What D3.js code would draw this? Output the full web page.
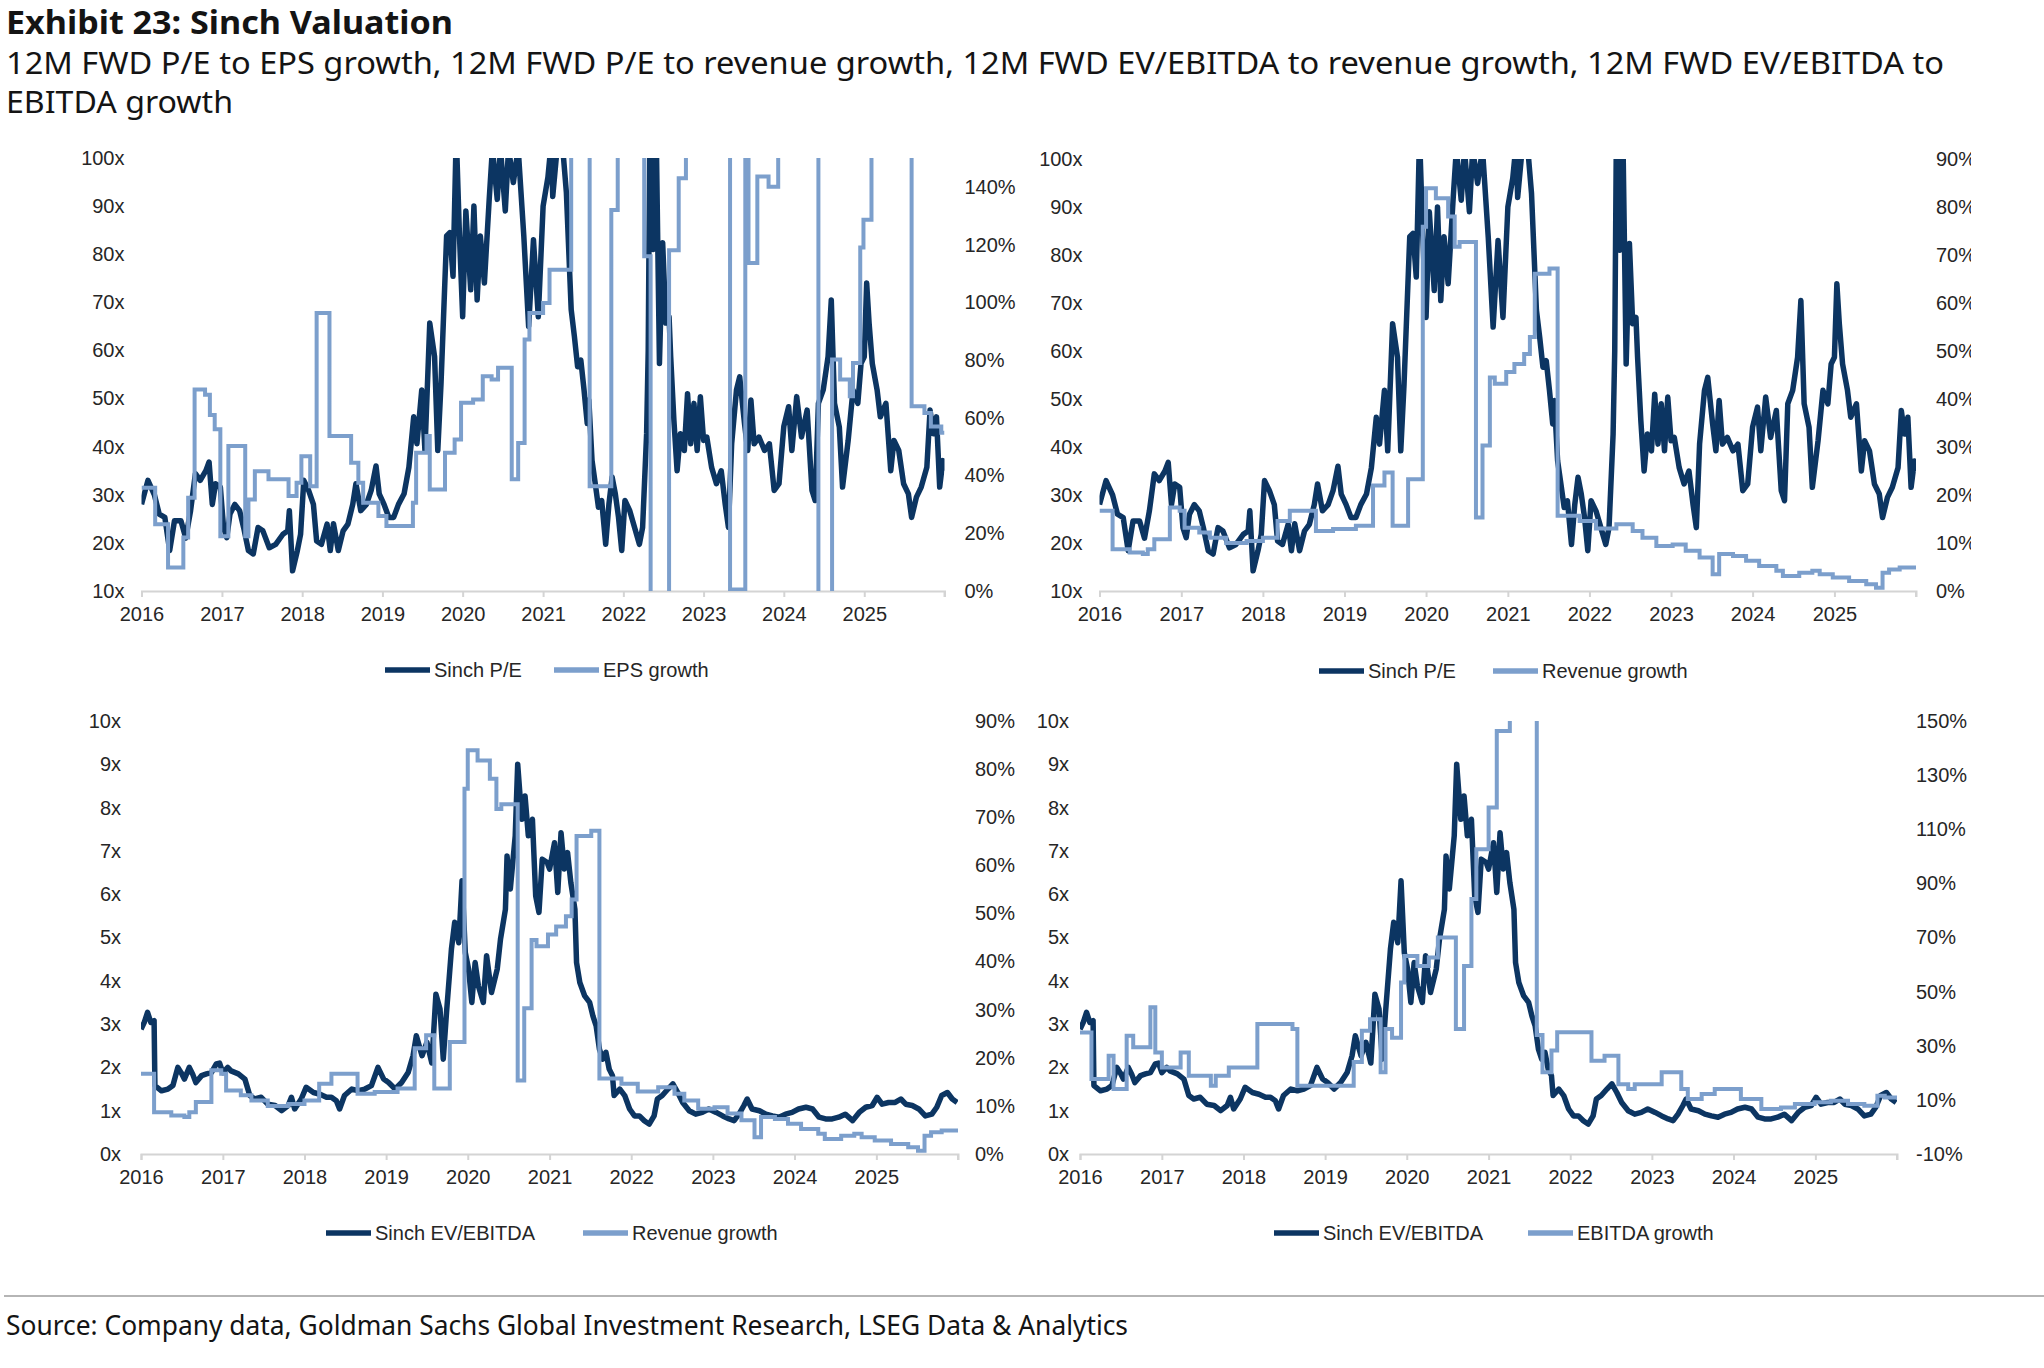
<!DOCTYPE html>
<html>
<head>
<meta charset="utf-8">
<script src="https://cdn.jsdelivr.net/npm/d3@7/dist/d3.min.js"></script>
<style>
  body { margin: 0; background: #fff; }
  .tick text, .legend text { font-family: "Liberation Sans", Arial, sans-serif; font-size: 20px; fill: #262626; }
  .title { font-family: "Noto Sans", "Open Sans", sans-serif; fill: #141414; }
</style>
</head>
<body>
<svg id="chart"></svg>
<script>
// [decimal year, value]
const peData = [[2016.00,28],[2016.08,33],[2016.16,30],[2016.22,26],[2016.29,25.3],[2016.35,18.4],[2016.41,24.6],[2016.49,24.6],[2016.55,21],[2016.61,26.7],[2016.67,34.4],[2016.73,33],[2016.80,35],[2016.84,36.8],[2016.88,28],[2016.92,32.3],[2016.98,31.6],[2017.02,23.2],[2017.06,21.1],[2017.10,26],[2017.16,28],[2017.22,26.7],[2017.27,23.2],[2017.33,18.4],[2017.39,17.7],[2017.45,23.2],[2017.51,22.5],[2017.59,19],[2017.67,19.7],[2017.76,21.8],[2017.82,22.5],[2017.84,26.7],[2017.88,14.2],[2017.94,18.4],[2017.98,21.8],[2018.02,33],[2018.08,30.9],[2018.14,28],[2018.18,20.4],[2018.24,19.7],[2018.31,23.9],[2018.35,18.4],[2018.39,24],[2018.45,18.4],[2018.51,22.5],[2018.57,23.9],[2018.63,28],[2018.67,32.3],[2018.73,26.7],[2018.80,28],[2018.86,30.9],[2018.92,36],[2018.96,30.2],[2019.02,28],[2019.08,25.3],[2019.14,25.3],[2019.20,28],[2019.27,30.2],[2019.33,35.7],[2019.39,46.2],[2019.43,40.6],[2019.49,51.8],[2019.53,39.2],[2019.59,65.7],[2019.65,58.7],[2019.69,39.2],[2019.73,53],[2019.80,83.8],[2019.84,84.5],[2019.88,75.4],[2019.92,105],[2019.96,84],[2020.00,67],[2020.04,89],[2020.10,72.6],[2020.14,90],[2020.18,70.5],[2020.22,83.8],[2020.27,74],[2020.33,91.4],[2020.37,102],[2020.43,91.4],[2020.47,102],[2020.53,89],[2020.57,102],[2020.63,94.9],[2020.69,102],[2020.76,83.8],[2020.82,65],[2020.88,83],[2020.94,67],[2021.00,90],[2021.06,96],[2021.10,103],[2021.12,92],[2021.18,103],[2021.24,103],[2021.29,92.8],[2021.35,68.5],[2021.39,62.9],[2021.43,56.6],[2021.47,58],[2021.51,51.8],[2021.55,44.8],[2021.57,49.7],[2021.61,37.1],[2021.65,32.3],[2021.69,27.4],[2021.73,28.8],[2021.78,19.7],[2021.82,28],[2021.86,33.7],[2021.90,30.2],[2021.94,25.3],[2021.98,18.4],[2022.02,28.8],[2022.08,26.7],[2022.14,23.2],[2022.20,19.7],[2022.24,23.2],[2022.29,42.7],[2022.31,60],[2022.33,105],[2022.37,81],[2022.41,105],[2022.45,57.3],[2022.49,82.4],[2022.53,65.7],[2022.57,67],[2022.59,58.7],[2022.63,45.5],[2022.67,35],[2022.71,42.7],[2022.76,39.2],[2022.80,51],[2022.84,40.6],[2022.88,49],[2022.92,39.2],[2022.96,50.4],[2023.00,41.3],[2023.04,42],[2023.10,35.7],[2023.16,32.3],[2023.22,35],[2023.27,28],[2023.31,23.2],[2023.35,40.6],[2023.41,51.8],[2023.45,54.5],[2023.51,44.8],[2023.55,39.2],[2023.59,49.7],[2023.63,40.6],[2023.69,42],[2023.76,39.2],[2023.82,40.6],[2023.88,30.9],[2023.94,32.3],[2024.00,44.2],[2024.06,48.3],[2024.10,39.2],[2024.16,50.4],[2024.22,42],[2024.29,47.6],[2024.35,30.9],[2024.39,28.8],[2024.43,49],[2024.49,51.8],[2024.55,58.7],[2024.59,70.5],[2024.63,49],[2024.69,44.1],[2024.73,31.6],[2024.80,41.3],[2024.86,51.8],[2024.92,49],[2024.96,57.3],[2025.00,58.7],[2025.03,74],[2025.06,65.7],[2025.10,57.3],[2025.16,51.8],[2025.20,46.2],[2025.27,49],[2025.33,35],[2025.37,41.3],[2025.43,39.2],[2025.49,32.3],[2025.55,30.2],[2025.59,25.3],[2025.65,29.5],[2025.71,31.6],[2025.78,35.7],[2025.82,47.6],[2025.86,42.7],[2025.90,46.2],[2025.94,31.6],[2025.98,37.1],[2026.00,35]]

const evData = [[2016.00,2.88],[2016.04,3.04],[2016.08,3.27],[2016.12,3.04],[2016.16,3.08],[2016.17,1.58],[2016.25,1.46],[2016.33,1.5],[2016.39,1.58],[2016.45,2.0],[2016.49,1.88],[2016.53,1.73],[2016.59,2.0],[2016.63,1.85],[2016.67,1.65],[2016.74,1.81],[2016.80,1.85],[2016.86,1.88],[2016.92,2.08],[2016.96,2.1],[2017.00,1.88],[2017.06,2.0],[2017.10,1.92],[2017.19,1.85],[2017.27,1.73],[2017.33,1.35],[2017.39,1.27],[2017.47,1.31],[2017.55,1.15],[2017.64,1.12],[2017.72,1.0],[2017.80,1.12],[2017.84,1.31],[2017.88,1.04],[2017.96,1.27],[2018.02,1.54],[2018.11,1.42],[2018.19,1.38],[2018.27,1.31],[2018.33,1.31],[2018.39,1.23],[2018.43,1.04],[2018.49,1.35],[2018.58,1.5],[2018.66,1.46],[2018.74,1.5],[2018.82,1.58],[2018.90,2.0],[2018.97,1.73],[2019.03,1.65],[2019.11,1.5],[2019.19,1.65],[2019.27,1.88],[2019.33,2.27],[2019.37,2.73],[2019.44,2.27],[2019.50,2.58],[2019.56,2.1],[2019.61,3.69],[2019.66,3.35],[2019.70,2.19],[2019.74,3.27],[2019.80,4.73],[2019.84,5.35],[2019.89,4.88],[2019.93,6.31],[2019.97,4.65],[2020.01,4.27],[2020.05,3.5],[2020.09,4.42],[2020.13,3.88],[2020.19,3.5],[2020.23,4.58],[2020.29,3.73],[2020.36,4.27],[2020.40,4.96],[2020.46,5.65],[2020.48,6.88],[2020.52,6.12],[2020.58,7.35],[2020.61,9.0],[2020.66,7.73],[2020.70,8.27],[2020.74,7.35],[2020.79,7.73],[2020.83,5.96],[2020.87,5.58],[2020.91,6.81],[2020.97,6.73],[2021.00,6.58],[2021.06,7.19],[2021.10,6.04],[2021.14,7.42],[2021.18,6.58],[2021.22,6.96],[2021.26,6.27],[2021.31,5.65],[2021.33,4.42],[2021.37,3.96],[2021.43,3.65],[2021.49,3.5],[2021.53,3.19],[2021.57,2.96],[2021.61,2.42],[2021.65,2.19],[2021.69,2.35],[2021.73,1.96],[2021.77,1.81],[2021.79,1.35],[2021.86,1.5],[2021.92,1.35],[2021.98,1.04],[2022.04,0.88],[2022.10,0.88],[2022.16,0.77],[2022.22,0.69],[2022.28,0.88],[2022.32,1.27],[2022.38,1.35],[2022.45,1.5],[2022.51,1.62],[2022.57,1.42],[2022.63,1.19],[2022.71,1.0],[2022.79,0.92],[2022.87,0.96],[2022.95,1.04],[2023.04,0.96],[2023.12,0.88],[2023.20,0.81],[2023.26,0.77],[2023.32,0.92],[2023.38,1.12],[2023.42,1.27],[2023.48,1.04],[2023.57,1.0],[2023.65,0.92],[2023.73,0.88],[2023.81,0.85],[2023.89,0.92],[2023.97,0.96],[2024.05,1.04],[2024.14,1.08],[2024.22,1.04],[2024.30,0.85],[2024.38,0.81],[2024.46,0.81],[2024.54,0.85],[2024.62,0.92],[2024.71,0.77],[2024.79,0.96],[2024.87,1.08],[2024.95,1.12],[2025.01,1.31],[2025.07,1.15],[2025.15,1.19],[2025.23,1.19],[2025.30,1.27],[2025.36,1.15],[2025.44,1.12],[2025.52,1.04],[2025.60,0.88],[2025.68,0.92],[2025.74,1.08],[2025.80,1.35],[2025.87,1.42],[2025.93,1.27],[2025.99,1.19]]

// step series, value holds until next point
const revGrowth = [[2016.00,16.7],[2016.16,8.7],[2016.37,8.0],[2016.53,7.7],[2016.59,8.7],[2016.67,10.8],[2016.86,17.4],[2016.98,16.7],[2017.04,13.2],[2017.22,12.2],[2017.35,11.1],[2017.55,10.0],[2017.80,10.4],[2018.00,11.1],[2018.18,14.6],[2018.33,16.7],[2018.65,12.5],[2018.86,12.9],[2019.14,13.6],[2019.35,22.0],[2019.49,24.7],[2019.59,13.6],[2019.78,23.3],[2019.96,75.9],[2020.00,83.9],[2020.12,81.8],[2020.27,78.0],[2020.35,71.7],[2020.41,72.7],[2020.61,15.3],[2020.69,30.3],[2020.78,44.5],[2020.84,43.2],[2020.98,45.6],[2021.08,47.3],[2021.20,49.4],[2021.27,52.9],[2021.33,66.1],[2021.51,67.2],[2021.61,15.7],[2021.88,14.6],[2022.08,13.0],[2022.33,13.9],[2022.53,12.5],[2022.65,11.1],[2022.82,9.4],[2023.02,9.7],[2023.18,8.4],[2023.35,7.0],[2023.51,3.5],[2023.59,7.7],[2023.76,7.3],[2023.92,6.3],[2024.08,5.2],[2024.29,4.2],[2024.37,3.1],[2024.57,3.8],[2024.73,4.2],[2024.82,3.5],[2024.98,2.8],[2025.18,2.1],[2025.39,1.4],[2025.51,0.7],[2025.59,3.8],[2025.67,4.5],[2025.80,4.9],[2026.00,4.9]]

const epsGrowth = [[2016.00,35.8],[2016.17,23.1],[2016.33,8.1],[2016.52,18.5],[2016.58,32.3],[2016.66,69.8],[2016.79,68],[2016.85,61],[2016.91,56],[2016.98,19],[2017.08,50.2],[2017.29,19],[2017.33,31.7],[2017.41,41.5],[2017.58,38.7],[2017.83,32.9],[2017.93,37.5],[2017.99,46.7],[2018.10,36.3],[2018.18,96.3],[2018.34,53.7],[2018.61,44.4],[2018.70,37.5],[2018.76,30.6],[2018.95,26],[2019.05,22.5],[2019.38,30.6],[2019.42,47.9],[2019.55,53.7],[2019.59,35.2],[2019.78,47.9],[2019.90,52.5],[2019.98,65.2],[2020.13,66.3],[2020.25,74.4],[2020.36,73.3],[2020.44,77.3],[2020.61,38.7],[2020.69,51.3],[2020.77,87.1],[2020.83,96.3],[2021.00,99.8],[2021.08,111.3],[2021.35,200],[2021.58,36.3],[2021.85,132],[2021.93,200],[2022.26,116],[2022.34,-20],[2022.57,118],[2022.69,143],[2022.78,200],[2023.33,0.5],[2023.52,200],[2023.56,113.6],[2023.67,143.6],[2023.81,140],[2023.93,200],[2024.43,-20],[2024.60,80.2],[2024.70,73.3],[2024.82,67.5],[2024.86,79],[2024.95,119],[2024.99,128.6],[2025.09,200],[2025.59,64],[2025.75,61.7],[2025.83,57],[2025.96,54.8],[2026.00,54.8]]

const ebitdaGrowth = [[2016.00,34.9],[2016.14,17.7],[2016.35,26.3],[2016.41,14.0],[2016.57,33.7],[2016.65,29.4],[2016.86,44.2],[2016.92,27.5],[2017.00,22.0],[2017.23,27.5],[2017.33,18.9],[2017.60,15.2],[2017.66,18.9],[2017.82,22.0],[2018.17,38.0],[2018.60,36.2],[2018.66,15.2],[2019.35,24.0],[2019.45,35.5],[2019.55,39.8],[2019.68,20.2],[2019.74,36.2],[2019.82,33.0],[2019.93,53.4],[2019.97,63.2],[2020.13,59.5],[2020.27,62.6],[2020.38,70.0],[2020.60,36.2],[2020.70,59.5],[2020.79,84.2],[2020.85,102.6],[2021.00,118],[2021.10,146.3],[2021.26,250],[2021.59,34],[2021.66,20.2],[2021.77,28.2],[2021.84,35],[2022.26,24.5],[2022.42,26.3],[2022.59,15.8],[2022.71,14.0],[2022.79,15.8],[2023.12,20.2],[2023.36,14.0],[2023.44,10.3],[2023.61,12.2],[2023.77,14.0],[2024.09,10.3],[2024.34,6.6],[2024.58,7.2],[2024.75,8.5],[2024.99,9.1],[2025.19,9.7],[2025.40,8.5],[2025.60,7.8],[2025.76,11.5],[2025.85,10.9],[2026.00,10.9]]

const yearTicks = [2016, 2017, 2018, 2019, 2020, 2021, 2022, 2023, 2024, 2025]
const peTicks = [10, 20, 30, 40, 50, 60, 70, 80, 90, 100]
const evTicks = [0, 1, 2, 3, 4, 5, 6, 7, 8, 9, 10]
const epsTicks = [0, 20, 40, 60, 80, 100, 120, 140]
const revTicks = [0, 10, 20, 30, 40, 50, 60, 70, 80, 90]
const ebitdaTicks = [-10, 10, 30, 50, 70, 90, 110, 130, 150]

const dark = '#0c3562'
const light = '#7c9fcc'
const axisGrey = '#d4d4d4'

let width = 2044
let height = 1368

let svg = d3.select('#chart').attr('width', width).attr('height', height)

const toDate = y => {
    let yr = Math.floor(y)
    let a = new Date(yr, 0, 1), b = new Date(yr + 1, 0, 1)
    return new Date(+a + (y - yr) * (b - a))
}

const panels = [
    { l: 141.5, r: 944.5, t: 158, b: 591, left: peData, right: epsGrowth, lDom: [10, 100], rDom: [0, 150],
      lTicks: peTicks, rTicks: epsTicks, lPad: 17, rPad: 20, names: ['Sinch P/E', 'EPS growth'], legY: 670, legX: [385, 554] },
    { l: 1099.5, r: 1916, t: 159, b: 591, left: peData, right: revGrowth, lDom: [10, 100], rDom: [0, 90],
      lTicks: peTicks, rTicks: revTicks, lPad: 17, rPad: 20, names: ['Sinch P/E', 'Revenue growth'], legY: 671, legX: [1319, 1493], cut: 1971 },
    { l: 141, r: 958, t: 721, b: 1154, left: evData, right: revGrowth, lDom: [0, 10], rDom: [0, 90],
      lTicks: evTicks, rTicks: revTicks, lPad: 20, rPad: 17, names: ['Sinch EV/EBITDA', 'Revenue growth'], legY: 1233, legX: [326, 583] },
    { l: 1080, r: 1897, t: 721, b: 1154, left: evData, right: ebitdaGrowth, lDom: [0, 10], rDom: [-10, 150],
      lTicks: evTicks, rTicks: ebitdaTicks, lPad: 11, rPad: 19, names: ['Sinch EV/EBITDA', 'EBITDA growth'], legY: 1233, legX: [1274, 1528] }
]

const drawPanel = (p, i) => {
    let g = svg.append('g').attr('class', 'panel')

    let x = d3.scaleTime().domain([toDate(2016), toDate(2026)]).range([p.l, p.r])
    let yL = d3.scaleLinear().domain(p.lDom).range([p.b, p.t])
    let yR = d3.scaleLinear().domain(p.rDom).range([p.b, p.t])

    g.append('clipPath').attr('id', 'clip' + i)
        .append('rect').attr('x', p.l).attr('y', p.t).attr('width', p.r - p.l).attr('height', p.b - p.t)

    // x axis
    let xAxis = d3.axisBottom(x)
        .tickValues(yearTicks.map(toDate))
        .tickFormat(d3.timeFormat('%Y'))
        .tickSize(6)
        .tickPadding(10)
    let gx = g.append('g').attr('transform', 'translate(0,' + p.b + ')').call(xAxis)
    gx.select('.domain').attr('stroke', axisGrey).attr('stroke-width', 2)
    gx.selectAll('.tick line').attr('stroke', axisGrey).attr('stroke-width', 2)
    gx.append('line').attr('x1', p.r).attr('x2', p.r).attr('y1', 0).attr('y2', 6).attr('stroke', axisGrey).attr('stroke-width', 2)

    let gl = g.append('g').attr('transform', 'translate(' + p.l + ',0)')
        .call(d3.axisLeft(yL).tickValues(p.lTicks).tickFormat(d => d + 'x').tickSize(0).tickPadding(p.lPad))
    gl.select('.domain').remove()

    let gr = g.append('g').attr('transform', 'translate(' + p.r + ',0)')
        .call(d3.axisRight(yR).tickValues(p.rTicks).tickFormat(d => d + '%').tickSize(0).tickPadding(p.rPad))
    gr.select('.domain').remove()
    if (p.cut) {
        g.append('clipPath').attr('id', 'cut' + i)
            .append('rect').attr('x', 0).attr('y', 0).attr('width', p.cut - p.r).attr('height', height)
        gr.attr('clip-path', 'url(#cut' + i + ')')
    }
    g.selectAll('.tick text').attr('font-size', null).attr('font-family', null)

    let plot = g.append('g').attr('clip-path', 'url(#clip' + i + ')')

    let lineL = d3.line().x(d => x(toDate(d[0]))).y(d => yL(d[1]))
    let lineR = d3.line().x(d => x(toDate(d[0]))).y(d => yR(d[1])).curve(d3.curveStepAfter)

    plot.append('path').datum(p.left)
        .attr('d', lineL).attr('fill', 'none').attr('stroke', dark)
        .attr('stroke-width', 5.5).attr('stroke-linejoin', 'round')
    plot.append('path').datum(p.right)
        .attr('d', lineR).attr('fill', 'none').attr('stroke', light)
        .attr('stroke-width', 4)

    // legend
    let leg = g.append('g').attr('class', 'legend')
    leg.selectAll('line').data(p.names).enter().append('line')
        .attr('x1', (d, k) => p.legX[k]).attr('x2', (d, k) => p.legX[k] + 45)
        .attr('y1', p.legY).attr('y2', p.legY)
        .attr('stroke', (d, k) => k ? light : dark).attr('stroke-width', 5.5)
    leg.selectAll('text').data(p.names).enter().append('text')
        .attr('x', (d, k) => p.legX[k] + 49).attr('y', p.legY + 7)
        .text(d => d)
}

panels.forEach(drawPanel)

// heading, rule and source
const addText = (txt, xPos, yPos, size, weight, len) => {
    svg.append('text').attr('class', 'title')
        .attr('x', xPos).attr('y', yPos)
        .attr('font-size', size).attr('font-weight', weight)
        .attr('textLength', len).attr('lengthAdjust', 'spacingAndGlyphs')
        .text(txt)
}

addText('Exhibit 23: Sinch Valuation', 6, 34, 32, 700, 447)
addText('12M FWD P/E to EPS growth, 12M FWD P/E to revenue growth, 12M FWD EV/EBITDA to revenue growth, 12M FWD EV/EBITDA to', 6, 74, 30, 400, 1938)
addText('EBITDA growth', 6, 113, 30, 400, 227)

svg.append('line').attr('x1', 4).attr('x2', width).attr('y1', 1296).attr('y2', 1296)
    .attr('stroke', '#b5b5b5').attr('stroke-width', 2)

addText('Source: Company data, Goldman Sachs Global Investment Research, LSEG Data & Analytics', 6, 1335, 28, 400, 1122)
</script>
</body>
</html>
